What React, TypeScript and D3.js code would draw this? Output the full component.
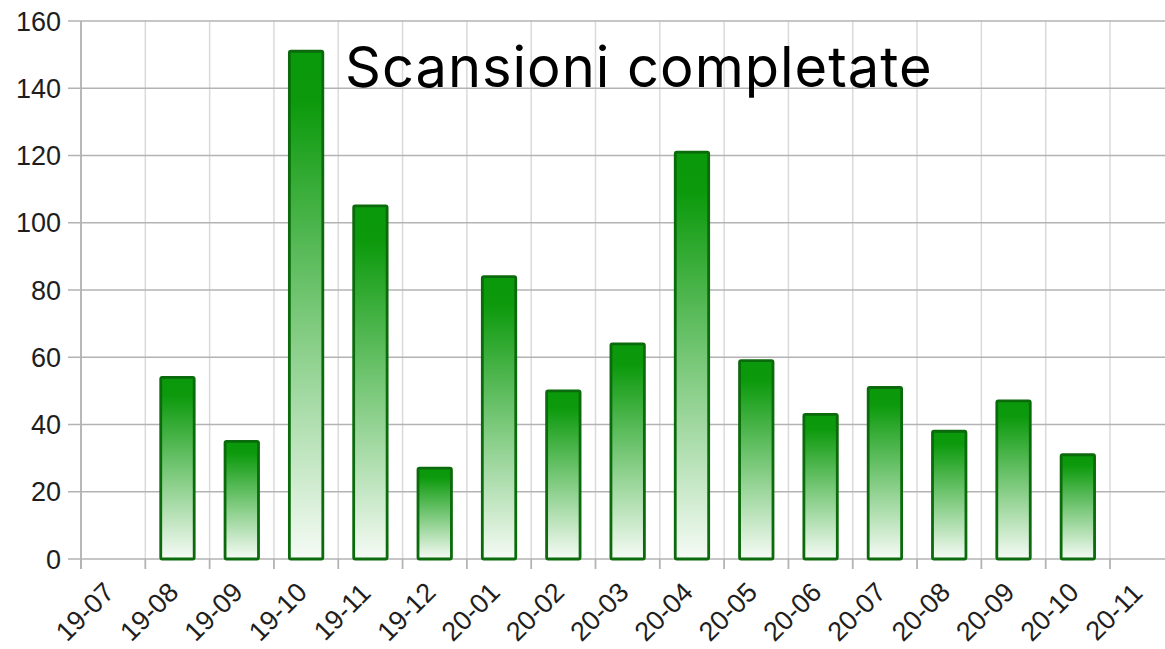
import React from "react";
import * as d3 from "d3";

const tickMonths = ["19-07","19-08","19-09","19-10","19-11","19-12","20-01","20-02","20-03","20-04","20-05","20-06","20-07","20-08","20-09","20-10","20-11"];
const barMonths = ["19-08","19-09","19-10","19-11","19-12","20-01","20-02","20-03","20-04","20-05","20-06","20-07","20-08","20-09","20-10"];
const scans = [54,35,151,105,27,84,50,64,121,59,43,51,38,47,31];
const yTicks = [0,20,40,60,80,100,120,140,160];
const title = "Scansioni completate";

const W = 1165, H = 649;
const left = 81, top = 21, bottom = 559;
const step = (1110 - 81) / 16;

export default function App() {
  const x = d3.scaleBand<string>().domain(tickMonths).range([left, left + step * tickMonths.length]).padding(0);
  const y = d3.scaleLinear().domain([0, 160]).range([bottom, top]);
  const bw = x.bandwidth() * 0.52;
  const gridH = "#b3b3b3";
  const gridV = "#dadada";
  const labelFont = "'Liberation Sans', Arial, sans-serif";
  return (
    <svg width={W} height={H} style={{ position: "absolute", left: 0, top: 0, background: "#fff" }}>
      <defs>
        <linearGradient id="barGrad" x1="0" y1="0" x2="0" y2="1">
          <stop offset="0" stopColor="#0a990a" />
          <stop offset="0.1" stopColor="#0c9a0c" />
          <stop offset="0.5" stopColor="#74c674" />
          <stop offset="1" stopColor="#f6fbf6" />
        </linearGradient>
      </defs>
      {tickMonths.map((m) => (
        <line key={"v" + m} x1={x(m)} x2={x(m)} y1={top} y2={bottom} stroke={gridV} strokeWidth={1.5} />
      ))}
      {yTicks.map((t) => (
        <g key={"h" + t}>
          <line x1={68} x2={W} y1={y(t)} y2={y(t)} stroke={gridH} strokeWidth={1.5} />
          <text x={61} y={y(t)} dy="0.36em" textAnchor="end" fontFamily={labelFont} fontSize={27} fill="#1e1e1e">{t}</text>
        </g>
      ))}
      <line x1={left} x2={left} y1={top} y2={bottom + 10} stroke={gridH} strokeWidth={1.8} />
      {tickMonths.map((m) => (
        <g key={"t" + m}>
          <line x1={x(m)} x2={x(m)} y1={bottom} y2={bottom + 10} stroke={gridH} strokeWidth={1.8} />
          <text transform={`translate(${(x(m) as number) + 4},${bottom + 53}) rotate(-45)`} textAnchor="middle" dominantBaseline="central" fontFamily={labelFont} fontSize={27} fill="#1e1e1e">{m}</text>
        </g>
      ))}
      {barMonths.map((m, i) => (
        <rect key={"b" + m} x={(x(m) as number) + (x.bandwidth() - bw) / 2} y={y(scans[i])} width={bw} height={y(0) - y(scans[i])} rx={1.5} fill="url(#barGrad)" stroke="#0b6a0b" strokeWidth={2.8} />
      ))}
      <text x={345} y={87} fontFamily="Inter, 'Noto Sans', sans-serif" fontSize={56} letterSpacing={1} fill="#000">{title}</text>
    </svg>
  );
}
